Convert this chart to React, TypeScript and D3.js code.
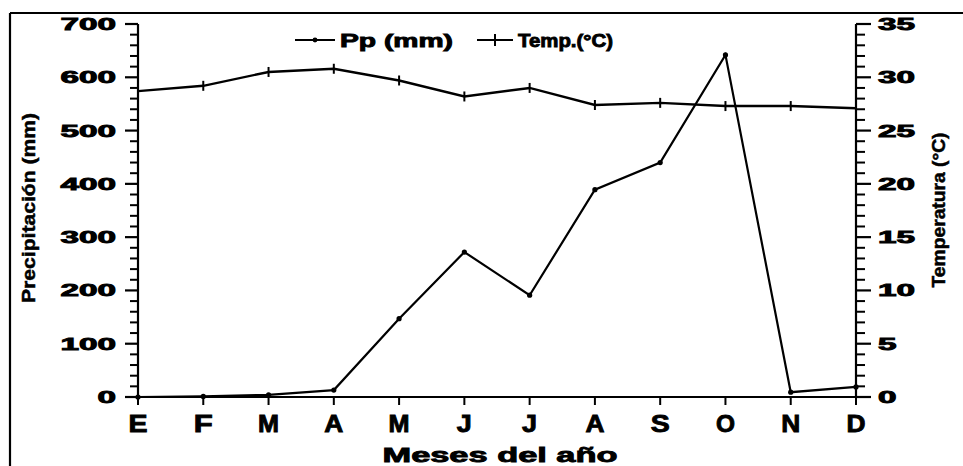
import React from "react";
import * as d3 from "d3";

const months = ["E", "F", "M", "A", "M", "J", "J", "A", "S", "O", "N", "D"];
const ppValues = [0, 1, 4, 13, 147, 272, 191, 389, 440, 642, 9, 19];
const tempValues = [28.7, 29.2, 30.5, 30.8, 29.7, 28.2, 29.0, 27.4, 27.6, 27.3, 27.3, 27.1];
const ppTicks = [0, 100, 200, 300, 400, 500, 600, 700];
const tempTicks = [0, 5, 10, 15, 20, 25, 30, 35];
const ppMinorTicks = [20, 40, 60, 80, 120, 140, 160, 180, 220, 240, 260, 280, 320, 340, 360, 380, 420, 440, 460, 480, 520, 540, 560, 580, 620, 640, 660, 680];
const tempMinorTicks = [1, 2, 3, 4, 6, 7, 8, 9, 11, 12, 13, 14, 16, 17, 18, 19, 21, 22, 23, 24, 26, 27, 28, 29, 31, 32, 33, 34];

const W = 963;
const H = 466;
const left = 138;
const right = 856;
const top = 24;
const bottom = 397;

const heavy = "'Liberation Sans', Arial, sans-serif";
const narrow = "'Liberation Sans Narrow', 'Liberation Sans', Arial, sans-serif";

export default function App() {
  const idx = months.map((_, i) => i);
  const x = d3.scaleLinear().domain([0, months.length - 1]).range([left, right]);
  const yP = d3.scaleLinear().domain([0, 700]).range([bottom, top]);
  const yT = d3.scaleLinear().domain([0, 35]).range([bottom, top]);

  const ppLine = d3.line<number>().x((_, i) => x(i)).y((d) => yP(d));
  const tLine = d3.line<number>().x((_, i) => x(i)).y((d) => yT(d));

  const txt = {
    fontFamily: heavy,
    fontWeight: 700,
    stroke: "#000",
    strokeWidth: 0.9,
    fill: "#000",
  } as const;

  return (
    <svg
      width={W}
      height={H}
      style={{ position: "absolute", left: 0, top: 0, background: "#fff" }}
    >
      <rect x={0} y={0} width={W} height={H} fill="#fff" />
      {/* outer frame */}
      <line x1={10} y1={13} x2={W} y2={13} stroke="#000" strokeWidth={2.2} />
      <line x1={10} y1={13} x2={10} y2={H} stroke="#000" strokeWidth={2.2} />

      {/* axes */}
      <line x1={left} y1={top} x2={left} y2={bottom} stroke="#000" strokeWidth={2.2} />
      <line x1={right} y1={top} x2={right} y2={bottom} stroke="#000" strokeWidth={2.2} />
      {ppMinorTicks.map((v) => (
        <rect key={"pm" + v} x={left - 8} y={yP(v) - 1} width={8} height={2} fill="#000" />
      ))}
      {ppTicks.map((v) => (
        <rect key={"pM" + v} x={left - 13} y={yP(v) - 1.1} width={13} height={2.2} fill="#000" />
      ))}
      {tempMinorTicks.map((v) => (
        <rect key={"tm" + v} x={right} y={yT(v) - 1} width={9} height={2} fill="#000" />
      ))}
      {tempTicks.map((v) => (
        <rect key={"tM" + v} x={right} y={yT(v) - 1.1} width={15} height={2.2} fill="#000" />
      ))}

      {ppTicks.map((v) => (
        <text
          key={"pl" + v}
          x={116}
          y={yP(v) + 6}
          textAnchor="end"
          fontSize={17}
          textLength={String(v).length * 18.5}
          lengthAdjust="spacingAndGlyphs"
          {...txt}
        >
          {v}
        </text>
      ))}
      {tempTicks.map((v) => (
        <text
          key={"tl" + v}
          x={878}
          y={yT(v) + 6}
          textAnchor="start"
          fontSize={17}
          textLength={String(v).length * 18.5}
          lengthAdjust="spacingAndGlyphs"
          {...txt}
        >
          {v}
        </text>
      ))}

      {/* bottom axis */}
      <line x1={left} y1={bottom} x2={right} y2={bottom} stroke="#000" strokeWidth={2.2} />
      {idx.map((i) => (
        <line
          key={"xt" + i}
          x1={x(i)}
          x2={x(i)}
          y1={i === 0 ? bottom - 7 : bottom}
          y2={bottom + 8}
          stroke="#000"
          strokeWidth={2}
        />
      ))}
      {months.map((m, i) => (
        <text
          key={"xl" + i}
          x={x(i)}
          y={432}
          textAnchor="middle"
          fontSize={24}
          textLength={m === "M" ? 21 : m === "J" ? 15 : 19}
          lengthAdjust="spacingAndGlyphs"
          {...txt}
        >
          {m}
        </text>
      ))}

      {/* titles */}
      <text
        x={500}
        y={462}
        textAnchor="middle"
        fontSize={21}
        textLength={235}
        lengthAdjust="spacingAndGlyphs"
        {...txt}
      >
        Meses del año
      </text>
      <text
        transform="translate(35,208) rotate(-90)"
        textAnchor="middle"
        fontSize={19}
        textLength={190}
        lengthAdjust="spacingAndGlyphs"
        fontFamily={narrow}
        fontWeight={700}
        stroke="#000"
        strokeWidth={0.5}
      >
        Precipitación (mm)
      </text>
      <text
        transform="translate(945,210) rotate(-90)"
        textAnchor="middle"
        fontSize={19}
        textLength={155}
        lengthAdjust="spacingAndGlyphs"
        fontFamily={narrow}
        fontWeight={700}
        stroke="#000"
        strokeWidth={0.5}
      >
        Temperatura (°C)
      </text>

      {/* series */}
      <path d={tLine(tempValues) || ""} fill="none" stroke="#000" strokeWidth={2.4} />
      {tempValues.map((v, i) => (
        <line
          key={"tmk" + i}
          x1={x(i)}
          x2={x(i)}
          y1={yT(v) - 5}
          y2={yT(v) + 5}
          stroke="#000"
          strokeWidth={2}
        />
      ))}
      <path d={ppLine(ppValues) || ""} fill="none" stroke="#000" strokeWidth={2.2} />
      {ppValues.map((v, i) => (
        <circle key={"pmk" + i} cx={x(i)} cy={yP(v)} r={2.6} fill="#000" />
      ))}

      {/* legend */}
      <line x1={295} x2={335} y1={40} y2={40} stroke="#000" strokeWidth={2} />
      <circle cx={315} cy={40} r={2.4} fill="#000" />
      <text
        x={340}
        y={47}
        fontSize={19}
        textLength={113}
        lengthAdjust="spacingAndGlyphs"
        {...txt}
      >
        Pp (mm)
      </text>
      <line x1={477} x2={513} y1={40} y2={40} stroke="#000" strokeWidth={2} />
      <line x1={495} x2={495} y1={34} y2={46} stroke="#000" strokeWidth={2} />
      <text
        x={518}
        y={47}
        fontSize={19}
        textLength={95}
        lengthAdjust="spacingAndGlyphs"
        {...txt}
      >
        Temp.(°C)
      </text>
    </svg>
  );
}
